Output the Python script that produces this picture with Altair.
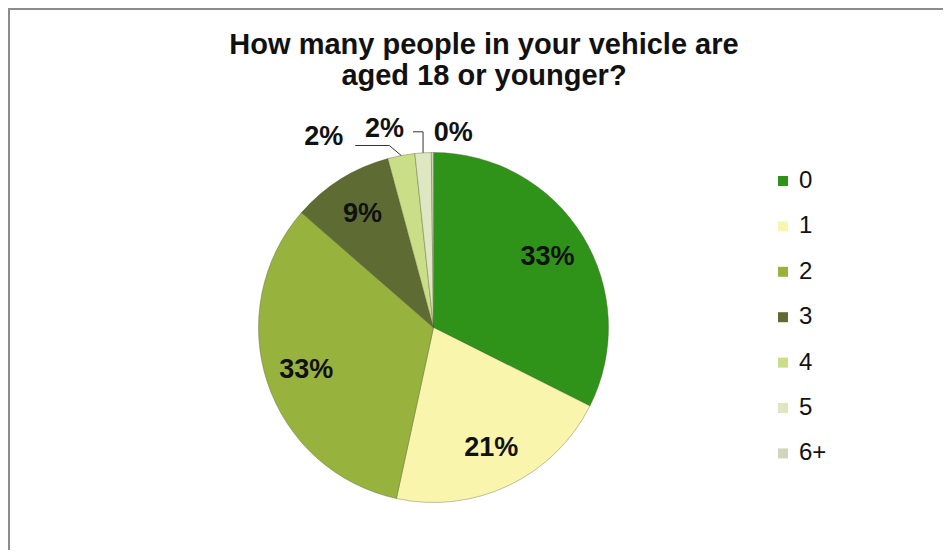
import altair as alt
import pandas as pd

FONT = "Liberation Sans"

# ---- data ----
categories = ["0", "1", "2", "3", "4", "5", "6+"]
shares = [32.4, 21.0, 33.0, 9.4, 2.5, 1.5, 0.2]
labels = ["33%", "21%", "33%", "9%", "2%", "2%", "0%"]
colors = ["#2e9318", "#f9f5ad", "#98b23e", "#5e6c33", "#c9de86", "#dfe7c2", "#d3d4bd"]
title_lines = ["How many people in your vehicle are", "aged 18 or younger?"]

df = pd.DataFrame({
    "cat": categories,
    "share": shares,
    "label": labels,
    "idx": list(range(len(categories))),
})

# layout constants (view coordinates)
CX, CY, R = 425.5, 319.5, 175
W, H = 935, 542

base = alt.Chart(df)

color = alt.Color(
    "cat:N",
    scale=alt.Scale(domain=categories, range=colors),
    legend=alt.Legend(
        title=None, orient="none", legendX=763, legendY=161, padding=0,
        symbolType="square", symbolSize=100, symbolStrokeWidth=0,
        symbolOpacity=1, labelFontSize=24, labelFont=FONT, labelColor="#111111",
        rowPadding=21.4, labelOffset=4,
    ),
)

pie = base.mark_arc(
    outerRadius=R, stroke="#4d5530", strokeWidth=0.6, strokeOpacity=0.6
).encode(
    theta=alt.Theta("share:Q", stack=True),
    color=color,
    order=alt.Order("idx:Q", sort="ascending"),
    x=alt.value(CX),
    y=alt.value(CY),
)

inner = base.transform_calculate(
    inner_label="datum.idx < 4 ? datum.label : ''"
).mark_text(
    radius=134, fontSize=27, fontWeight="bold", font=FONT, color="#111111"
).encode(
    theta=alt.Theta("share:Q", stack=True),
    order=alt.Order("idx:Q", sort="ascending"),
    text="inner_label:N",
    x=alt.value(CX),
    y=alt.value(CY),
)

geo = base.transform_joinaggregate(
    total="sum(share)"
).transform_window(
    cum="sum(share)", sort=[alt.SortField("idx")], frame=[None, 0]
).transform_calculate(
    mid="(datum.cum - datum.share / 2) / datum.total * 2 * PI",
    ex=f"{CX} + {R} * sin(datum.mid)",
    ey=f"{CY} - {R} * cos(datum.mid)",
    lx=f"{CX} + 200 * sin(datum.mid)",
    ly=f"{CY} - 200 * cos(datum.mid)",
)

def outer_label(cat, dx, dy):
    return geo.transform_filter(alt.datum.cat == cat).mark_text(
        fontSize=27, fontWeight="bold", font=FONT, color="#111111",
        dx=dx, dy=dy, baseline="middle",
    ).encode(
        x=alt.X("lx:Q", scale=None, axis=None),
        y=alt.Y("ly:Q", scale=None, axis=None),
        text="label:N",
    )

def leader(cat, ax, ay, bx, by):
    return geo.transform_filter(alt.datum.cat == cat).transform_calculate(
        x1=f"datum.ex + ({ax})", y1=f"datum.ey + ({ay})",
        x2=f"datum.ex + ({bx})", y2=f"datum.ey + ({by})",
    ).mark_rule(color="#333333", strokeWidth=1).encode(
        x=alt.X("x1:Q", scale=None, axis=None),
        y=alt.Y("y1:Q", scale=None, axis=None),
        x2="x2:Q",
        y2="y2:Q",
    )

outer = [
    outer_label("4", -73, 6),
    outer_label("5", -37, 1),
    outer_label("6+", 21, 5),
]
leaders = [
    leader("4", 0, 0, -12, -10),
    leader("4", -12, -10, -46, -10),
    leader("5", 0, 0, 0, -21),
    leader("5", 0, -21, -10, -21),
]

one = pd.DataFrame({"a": [0]})
border_left = alt.Chart(one).mark_rule(color="#8c8c8c", strokeWidth=2).encode(
    x=alt.value(1), y=alt.value(0), y2=alt.value(H)
)
border_top = alt.Chart(one).mark_rule(color="#8c8c8c", strokeWidth=2).encode(
    x=alt.value(0), x2=alt.value(W), y=alt.value(1)
)

title = alt.Chart(one).mark_text(
    fontSize=29, fontWeight="bold", font=FONT, color="#111111",
    align="center", baseline="alphabetic", lineHeight=31,
).encode(
    x=alt.value(476), y=alt.value(46), text=alt.value(title_lines)
)

chart = alt.layer(
    border_left, border_top, pie, inner, *outer, *leaders, title
).properties(
    width=W, height=H, padding=0,
    autosize=alt.AutoSizeParams(type="none"),
).configure_view(strokeWidth=0)

chart.save("out.html", embed_options={"renderer": "svg", "actions": False})
